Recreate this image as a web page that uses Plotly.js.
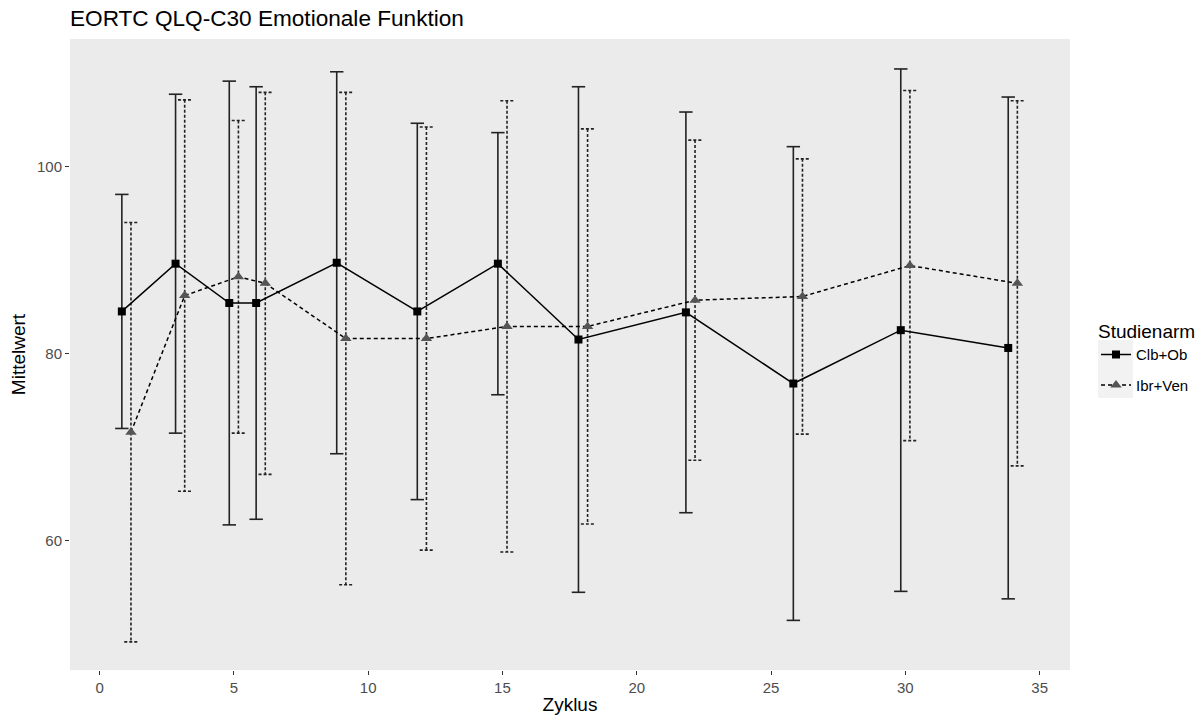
<!DOCTYPE html>
<html>
<head>
<meta charset="utf-8">
<script src="https://cdn.plot.ly/plotly-3.0.1.min.js"></script>
<style>
  html, body { margin: 0; padding: 0; background: #ffffff; }
  #chart { width: 1203px; height: 720px; }
</style>
</head>
<body>
<div id="chart"></div>
<script>
// ---- data ----
const zyklus   = [1, 3, 5, 6, 9, 12, 15, 18, 22, 26, 30, 34];
const clbMean  = [84.5, 89.6, 85.4, 85.4, 89.7, 84.5, 89.6, 81.5, 84.4, 76.8, 82.5, 80.6];
const clbSD    = [12.5, 18.1, 23.7, 23.1, 20.4, 20.1, 14.0, 27.0, 21.4, 25.3, 27.9, 26.8];
const ibrMean  = [71.6, 86.2, 88.2, 87.5, 81.6, 81.6, 82.9, 82.9, 85.7, 86.1, 89.4, 87.5];
const ibrSD    = [22.4, 20.9, 16.7, 20.4, 26.3, 22.6, 24.1, 21.1, 17.1, 14.7, 18.7, 19.5];
const armNames = ['Clb+Ob', 'Ibr+Ven'];
const xTicks   = [0, 5, 10, 15, 20, 25, 30, 35];
const yTicks   = [60, 80, 100];

// ---- style constants ----
const DODGE = 0.17;   // position_dodge half offset
const CAP = 0.25;     // half width of the error bar caps (x units)
const FONT = 'Liberation Sans, Arial, sans-serif';

function errorPath(xs, means, sds, shift) {
  const x = [], y = [];
  xs.forEach((xv, i) => {
    const cx = xv + shift, hi = means[i] + sds[i], lo = means[i] - sds[i];
    x.push(cx - CAP, cx + CAP, null, cx, cx, null, cx - CAP, cx + CAP, null);
    y.push(hi, hi, null, hi, lo, null, lo, lo, null);
  });
  return {x, y};
}

const clbX = zyklus.map(v => v - DODGE);
const ibrX = zyklus.map(v => v + DODGE);
const eClb = errorPath(zyklus, clbMean, clbSD, -DODGE);
const eIbr = errorPath(zyklus, ibrMean, ibrSD, DODGE);

const traces = [
  { x: eClb.x, y: eClb.y, type: 'scatter', mode: 'lines', showlegend: false, hoverinfo: 'skip',
    line: { color: '#222222', width: 1.6 } },
  { x: eIbr.x, y: eIbr.y, type: 'scatter', mode: 'lines', showlegend: false, hoverinfo: 'skip',
    line: { color: '#222222', width: 1.6, dash: '3px,2px' } },
  { x: clbX, y: clbMean, name: armNames[0], legendgroup: 'a', type: 'scatter', mode: 'lines+markers',
    line: { color: '#000000', width: 1.5 },
    marker: { symbol: 'square', size: 8, color: '#000000' } },
  { x: ibrX, y: ibrMean, name: armNames[1], legendgroup: 'b', type: 'scatter', mode: 'lines+markers',
    line: { color: '#000000', width: 1.5, dash: '4px,3px' },
    marker: { symbol: 'triangle-up', size: 10, color: '#555555' } }
];

const layout = {
  width: 1203, height: 720,
  margin: { l: 70, r: 133, t: 39, b: 50, autoexpand: false },
  paper_bgcolor: '#ffffff',
  plot_bgcolor: '#EBEBEB',
  font: { family: FONT, color: '#000000' },
  title: { text: 'EORTC QLQ-C30 Emotionale Funktion', font: { size: 22.6, color: '#000000', family: FONT },
           x: 0, xref: 'paper', xanchor: 'left', y: 0.975, yref: 'container', yanchor: 'middle' },
  xaxis: {
    range: [-1.1, 36.13], tickvals: xTicks, ticktext: xTicks.map(String),
    showgrid: false, zeroline: false, showline: false, automargin: false,
    ticks: 'outside', ticklen: 4, tickcolor: '#333333', tickwidth: 1,
    tickfont: { size: 15, color: '#4D4D4D', family: FONT },
    title: { text: 'Zyklus', font: { size: 19, color: '#000000', family: FONT }, standoff: 2 }
  },
  yaxis: {
    range: [46.2, 113.6], tickvals: yTicks, ticktext: yTicks.map(String),
    showgrid: false, zeroline: false, showline: false, automargin: false,
    ticks: 'outside', ticklen: 4, tickcolor: '#333333', tickwidth: 1,
    tickfont: { size: 15, color: '#4D4D4D', family: FONT },
    title: { text: 'Mittelwert', font: { size: 19, color: '#000000', family: FONT }, standoff: 6 }
  },
  legend: {
    x: 1.026, xanchor: 'left', y: 0.495, yanchor: 'middle',
    title: { text: 'Studienarm', font: { size: 19, color: '#000000', family: FONT } },
    font: { size: 15, color: '#000000', family: FONT },
    bgcolor: 'rgba(0,0,0,0)', itemwidth: 30, traceorder: 'grouped', tracegroupgap: 8
  },
  shapes: [
    { type: 'rect', xref: 'paper', yref: 'paper', layer: 'below',
      x0: 1.028, x1: 1.063, y0: 0.431, y1: 0.523,
      fillcolor: '#F2F2F2', line: { width: 0 } }
  ],
  showlegend: true
};

Plotly.newPlot('chart', traces, layout, { displayModeBar: false, staticPlot: true });
</script>
</body>
</html>
